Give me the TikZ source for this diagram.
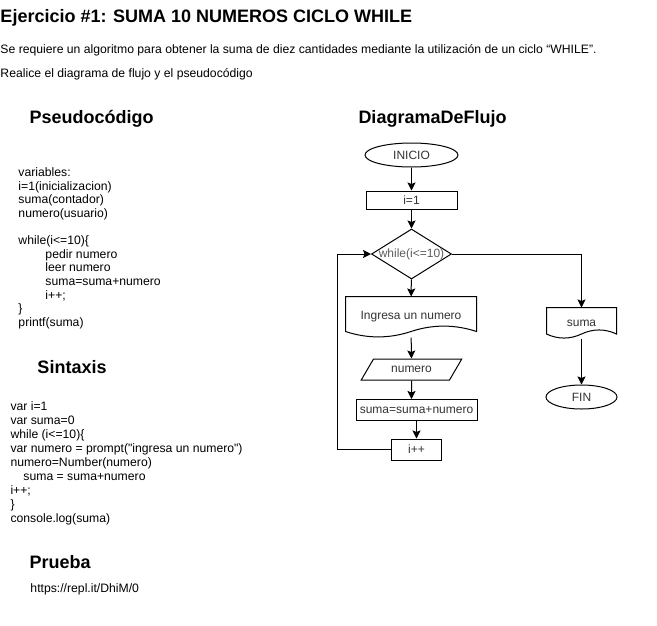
\documentclass[tikz,border=0pt]{standalone}
\usepackage{fontspec}
\setmainfont{Liberation Sans}
\definecolor{flow_c}{RGB}{51,51,51}
\usetikzlibrary{arrows.meta,
                calc,
                positioning,
                shapes.geometric}

\begin{document}
\begin{tikzpicture}[
			x=1pt, y=-1pt,
			line width=1pt,
			>={Stealth[length=8pt, width=8pt, inset=1.5pt]},
			head/.style = {anchor=base west, inner sep=0, font=\fontsize{18}{22}\selectfont\bfseries},
			body/.style = {anchor=base west, inner sep=0, font=\fontsize{12.2}{14}\selectfont},
			code/.style = {anchor=north west, inner sep=0, align=left},
			term/.style = {ellipse, draw, inner sep=0, minimum height=24pt, text=flow_c},
			box/.style = {rectangle, draw, inner sep=0, minimum height=20pt, text=flow_c},
			doc/.style = {rectangle, inner sep=0, text=flow_c},
			]
		\useasboundingbox (0,0) rectangle (657,625);
		\fontsize{12}{14}\selectfont
		% texts
		\node[head] (title) at (0,22) {Ejercicio \#1: SUMA 10 NUMEROS CICLO WHILE};
		\node[body] (t1) at (0,53) {Se requiere un algoritmo para obtener la suma de diez cantidades mediante la utilización de un ciclo “WHILE”.};
		\node[body] (t2) at (0,77.5) {Realice el diagrama de flujo y el pseudocódigo};
		\node[head] (h1) at (29,123.5) {Pseudocódigo};
		\node[head] (h2) at (358,123.5) {DiagramaDeFlujo};
		\node[head] (h3) at (37,373) {Sintaxis};
		\node[head] (h4) at (29,568.5) {Prueba};
		\node[body] (url) at (30,592) {https://repl.it/DhiM/0};
		\node[code, font=\fontsize{12.2}{13.6}\selectfont] (pseudo) at (18,167.4)
			{variables:\\
			 i=1(inicializacion)\\
			 suma(contador)\\
			 numero(usuario)\\[13.6pt]
			 while(i<=10)\{\\
			 \hspace*{27pt}pedir numero\\
			 \hspace*{27pt}leer numero\\
			 \hspace*{27pt}suma=suma+numero\\
			 \hspace*{27pt}i++;\\
			 \}\\
			 printf(suma)};
		\node[code, font=\fontsize{12.2}{14}\selectfont] (js) at (10,401.4)
			{var i=1\\
			 var suma=0\\
			 while (i<=10)\{\\
			 var numero = prompt(\textquotedbl ingresa un numero\textquotedbl)\\
			 numero=Number(numero)\\
			 \hspace*{13pt}suma = suma+numero\\
			 i++;\\
			 \}\\
			 console.log(suma)};
		% flowchart
		\node[term, minimum width=93pt] (ini) at (411.5,155) {INICIO};
		\node[box, minimum width=91pt, minimum height=18pt] (i1) at (411.5,200) {i=1};
		\node[diamond, draw, inner sep=0, minimum width=80pt, minimum height=50pt,
		      label={[text=flow_c!80]center:while(i<=10)}] (w) at (411.5,254) {};
		\node[doc, minimum width=130pt, minimum height=40pt] (in) at (411,317) {Ingresa un numero};
		\node[trapezium, draw, inner sep=0, trapezium stretches=true,
		      trapezium left angle=45, trapezium right angle=135,
		      minimum width=101pt, minimum height=21pt, text=flow_c] (num) at (411.5,369.5) {numero};
		\node[box, minimum width=121pt, minimum height=21pt] (s) at (416.5,410) {suma=suma+numero};
		\node[box, minimum width=50pt, minimum height=21pt] (inc) at (416.5,449.5) {i++};
		\node[doc, minimum width=69pt, minimum height=30pt] (out) at (581.5,323) {suma};
		\node[term, minimum width=71pt] (fin) at (581.5,397) {FIN};
		\coordinate (back) at (337,449.5);
		% document outlines
		\draw ([yshift=6pt]in.south west) -- (in.north west) -- (in.north east) -- ([yshift=6pt]in.south east)
			.. controls +(-21.7pt,7.2pt) and +(21.7pt,7.2pt) .. ([yshift=6pt]in.south)
			.. controls +(-21.7pt,-7.2pt) and +(21.7pt,-7.2pt) .. cycle;
		\draw ([yshift=4.5pt]out.south west) -- (out.north west) -- (out.north east) -- ([yshift=4.5pt]out.south east)
			.. controls +(-11.5pt,5.4pt) and +(11.5pt,5.4pt) .. ([yshift=4.5pt]out.south)
			.. controls +(-11.5pt,-5.4pt) and +(11.5pt,-5.4pt) .. cycle;
		% edges
		\path[->]
			(ini) edge (i1)
			(i1) edge (w)
			(w) edge (in)
			(in) edge (num)
			(num) edge (num |- s.north)
			(s) edge (inc)
			(out) edge (fin)
			;
		\draw[->] (w.east) -| (out.north);
		\draw[->] (inc.west) -- (back) |- (w.west);
\end{tikzpicture}
\end{document}
